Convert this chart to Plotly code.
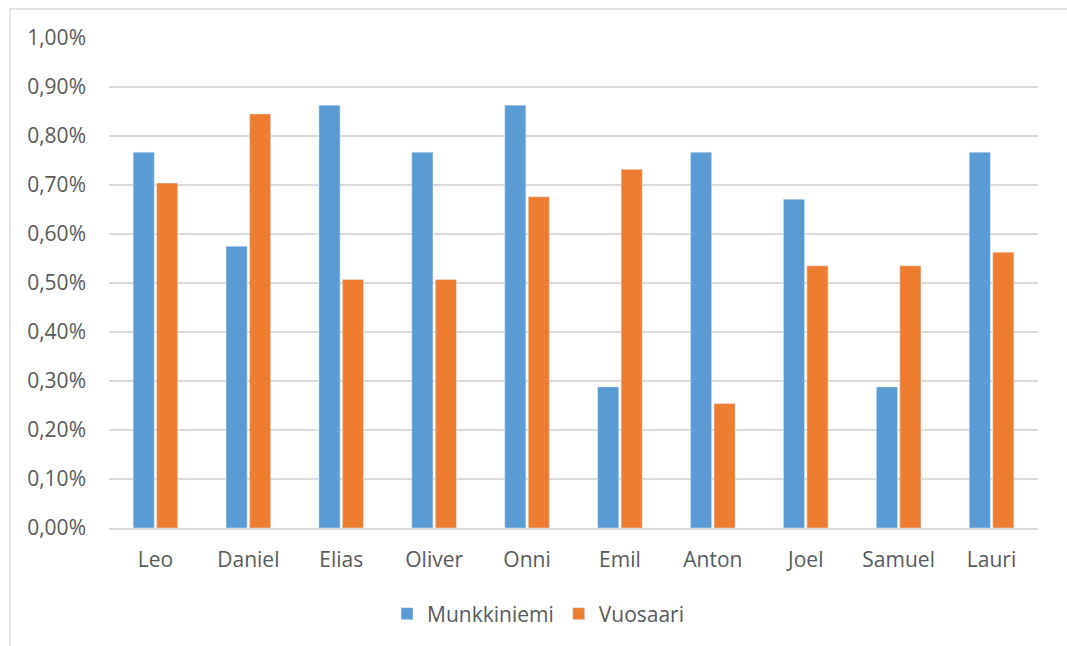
import plotly.graph_objects as go

# Share of boys' first names by district (%)
names = ["Leo", "Daniel", "Elias", "Oliver", "Onni", "Emil", "Anton", "Joel", "Samuel", "Lauri"]
munkkiniemi = [0.767, 0.575, 0.863, 0.767, 0.863, 0.288, 0.767, 0.671, 0.288, 0.767]
vuosaari = [0.704, 0.845, 0.507, 0.507, 0.676, 0.732, 0.254, 0.535, 0.535, 0.563]
y_ticks = [0.0, 0.1, 0.2, 0.3, 0.4, 0.5, 0.6, 0.7, 0.8, 0.9, 1.0]
y_tick_labels = [f"{v:.2f}%".replace(".", ",") for v in y_ticks]

W, H = 1067, 646
ML, MR, MT, MB = 109, 29, 38, 118
PW, PH = W - ML - MR, H - MT - MB

TEXT = "#595959"
GRID = "#D9D9D9"
FONT = "Open Sans, Liberation Sans, Arial, sans-serif"

fig = go.Figure()
fig.add_trace(go.Bar(x=names, y=munkkiniemi, name="Munkkiniemi", marker_color="#5B9BD5"))
fig.add_trace(go.Bar(x=names, y=vuosaari, name="Vuosaari", marker_color="#ED7D31"))


def px_x(p):
    return (p - ML) / PW


def px_y(p):
    return (H - MB - p) / PH


# outer chart frame (runs off the right and bottom edges)
fig.add_shape(type="rect", xref="paper", yref="paper",
              x0=px_x(10), x1=px_x(1090), y0=px_y(670), y1=px_y(9),
              line=dict(color=GRID, width=1.3), fillcolor="rgba(0,0,0,0)", layer="below")

fig.update_layout(
    width=W, height=H,
    margin=dict(l=ML, r=MR, t=MT, b=MB),
    paper_bgcolor="white", plot_bgcolor="white",
    font=dict(family=FONT, size=21, color=TEXT),
    barmode="group", bargap=0.494, bargroupgap=0.1,
    showlegend=True,
    legend=dict(orientation="h", x=px_x(538), xanchor="center",
                y=px_y(614), yanchor="middle",
                font=dict(size=21, color=TEXT), bgcolor="rgba(0,0,0,0)"),
    xaxis=dict(showgrid=False, showline=True, linecolor=GRID, linewidth=1.5,
               ticks="", ticklabelstandoff=12, tickfont=dict(size=21, color=TEXT)),
    yaxis=dict(range=[0, 1.0], tickmode="array", tickvals=y_ticks, ticktext=y_tick_labels,
               showgrid=True, gridcolor=GRID, gridwidth=1.5, zeroline=False,
               showline=False, ticks="", ticklabelstandoff=22,
               tickfont=dict(size=21, color=TEXT)),
)

fig.write_html("out.html")
